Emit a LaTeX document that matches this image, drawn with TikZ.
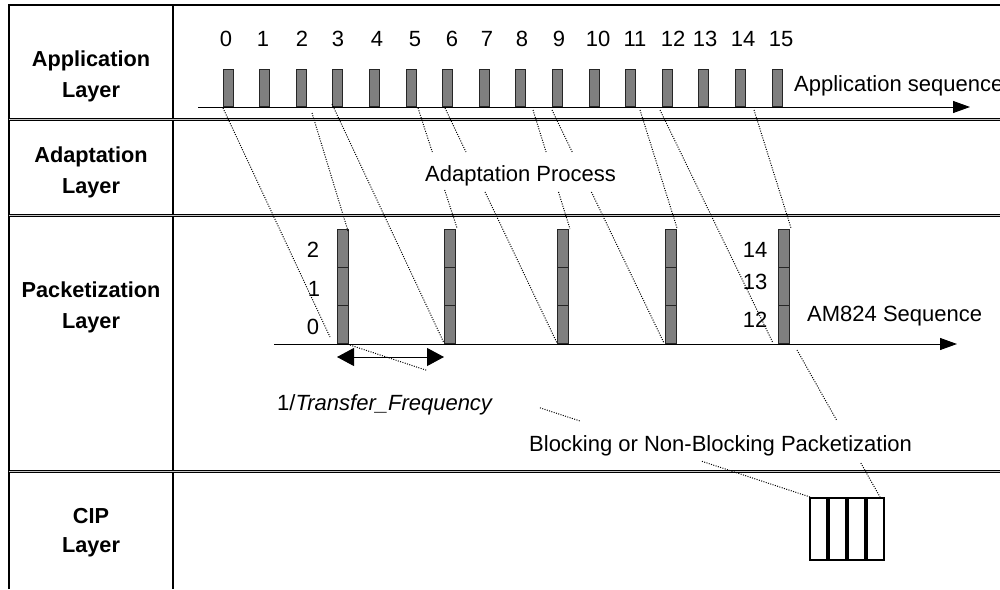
\documentclass[tikz,border=0pt]{standalone}
\usepackage{fontspec}
\setmainfont{Liberation Sans}
\usetikzlibrary{arrows.meta,calc}
\definecolor{boxgray}{HTML}{7F7F7F}
\begin{document}
\begin{tikzpicture}[x=1pt,y=-1pt,
  txt/.style={font=\fontsize{22}{26}\selectfont, inner sep=0pt},
  lbl/.style={font=\fontsize{21.7}{26}\selectfont\bfseries, inner sep=0pt, anchor=base},
  appbox/.style={draw=black!85, line width=1pt, fill=boxgray, minimum width=10pt, minimum height=37pt, inner sep=0pt},
  pktbox/.style={appbox, minimum width=11pt, minimum height=38pt},
  cipbox/.style={draw=black, line width=1.2pt, fill=white, minimum width=17pt, minimum height=62pt, inner sep=0pt},
  grid/.style={line width=1.3pt},
  rowsep/.style={double=gray!45, double distance=1pt, line width=1pt},
  dots/.style={line width=1pt, dash pattern=on 1pt off 1.4pt},
  axis/.style={line width=1pt, -{Triangle[length=17pt,width=12pt]}},
  span/.style={line width=1pt, {Triangle[length=17pt,width=18pt]}-{Triangle[length=17pt,width=18pt]}},
  ]
\useasboundingbox (0,0) rectangle (1000,589);
\fill[white] (0,0) rectangle (1000,589);

% table
\draw[grid] (9,589) -- (9,5) -- (1000,5);
\draw[grid] (173,5) -- (173,589);
\foreach \y in {119,215,471} \draw[rowsep] (9,\y) -- (1000,\y);

% layer labels
\node[lbl] (l1a) at (91,66) {Application};
\node[lbl] (l1b) at (91,97) {Layer};
\node[lbl] (l2a) at (91,162) {Adaptation};
\node[lbl] (l2b) at (91,193) {Layer};
\node[lbl] (l3a) at (91,297) {Packetization};
\node[lbl] (l3b) at (91,328) {Layer};
\node[lbl] (l4a) at (91,523) {CIP};
\node[lbl] (l4b) at (91,552) {Layer};

% application layer
\foreach \k in {0,...,15} \node[appbox] (a\k) at ({228+36.6*\k},87.5) {};
\foreach \k/\x in {0/226,1/263,2/302,3/338,4/377,5/415,6/452,7/487,8/522,9/559,10/598,11/635,12/673,13/705,14/743,15/781}
  \node[txt, anchor=base] (n\k) at (\x,46) {\k};
\coordinate (ax0) at (198,107);
\coordinate (ax1) at (970,107);
\draw[axis] (ax0) -- (ax1);
\node[txt, anchor=base west] (appseq) at (794,91) {Application sequence};

% adaptation layer
\node[txt, anchor=base west] (adp) at (425,181) {Adaptation Process};

% packetization layer
\foreach \c/\x in {1/343,2/450,3/563,4/671,5/784} {
  \node[pktbox] (p\c a) at (\x,324) {};
  \node[pktbox] (p\c b) at (\x,286) {};
  \node[pktbox] (p\c c) at (\x,248) {};
}
\node[txt, anchor=base] (q2) at (313,257) {2};
\node[txt, anchor=base] (q1) at (314,296) {1};
\node[txt, anchor=base] (q0) at (313,334) {0};
\node[txt, anchor=base] (q14) at (755,257) {14};
\node[txt, anchor=base] (q13) at (755,289) {13};
\node[txt, anchor=base] (q12) at (755,327) {12};
\coordinate (bx0) at (274,344);
\coordinate (bx1) at (957,344);
\draw[axis] (bx0) -- (bx1);
\node[txt, anchor=base west] (am) at (807,321) {AM824 Sequence};
\coordinate (tf0) at (337,357);
\coordinate (tf1) at (444,357);
\draw[span] (tf0) -- (tf1);
\node[txt, anchor=base west] (tf) at (277,410) {1/\textit{Transfer\_Frequency}};
\node[txt, anchor=base west] (blk) at (529,451) {Blocking or Non-Blocking Packetization};

% CIP layer
\foreach \k in {0,...,3} \node[cipbox] (c\k) at ({818.5+19*\k},529) {};

% dotted connectors
\coordinate (s1) at (223,108);  \coordinate (e1) at (330,337);
\coordinate (s2) at (312,113);  \coordinate (e2) at (348,231);
\coordinate (s3) at (332,104);  \coordinate (e3) at (444,343);
\coordinate (s4) at (418,108);  \coordinate (e4) at (457,228);
\coordinate (s5) at (445,108);  \coordinate (e5) at (557,343);
\coordinate (s6) at (533,110);  \coordinate (e6) at (570,229);
\coordinate (s7) at (552,110);  \coordinate (e7) at (664,343);
\coordinate (s8) at (640,110);  \coordinate (e8) at (677,228);
\coordinate (s9) at (660,110);  \coordinate (e9) at (773,343);
\coordinate (s10) at (754,110); \coordinate (e10) at (791,228);
\coordinate (s11) at (350,345); \coordinate (e11) at (810,497);
\coordinate (s12) at (797,350); \coordinate (e12) at (880,497);

\draw[dots] (s1) -- (e1);
\draw[dots] (s2) -- (e2);
\draw[dots] (s3) -- (e3);
\draw[dots] (s4) -- ($(s4)!0.367!(e4)$) ($(s4)!0.683!(e4)$) -- (e4);
\draw[dots] (s5) -- ($(s5)!0.187!(e5)$) ($(s5)!0.357!(e5)$) -- (e5);
\draw[dots] (s6) -- ($(s6)!0.353!(e6)$) ($(s6)!0.689!(e6)$) -- (e6);
\draw[dots] (s7) -- ($(s7)!0.18!(e7)$) ($(s7)!0.352!(e7)$) -- (e7);
\draw[dots] (s8) -- (e8);
\draw[dots] (s9) -- (e9);
\draw[dots] (s10) -- (e10);
\draw[dots] (s11) -- ($(s11)!0.167!(e11)$) ($(s11)!0.413!(e11)$) -- ($(s11)!0.5!(e11)$) ($(s11)!0.765!(e11)$) -- (e11);
\draw[dots] (s12) -- ($(s12)!0.476!(e12)$) ($(s12)!0.769!(e12)$) -- (e12);
\end{tikzpicture}
\end{document}
